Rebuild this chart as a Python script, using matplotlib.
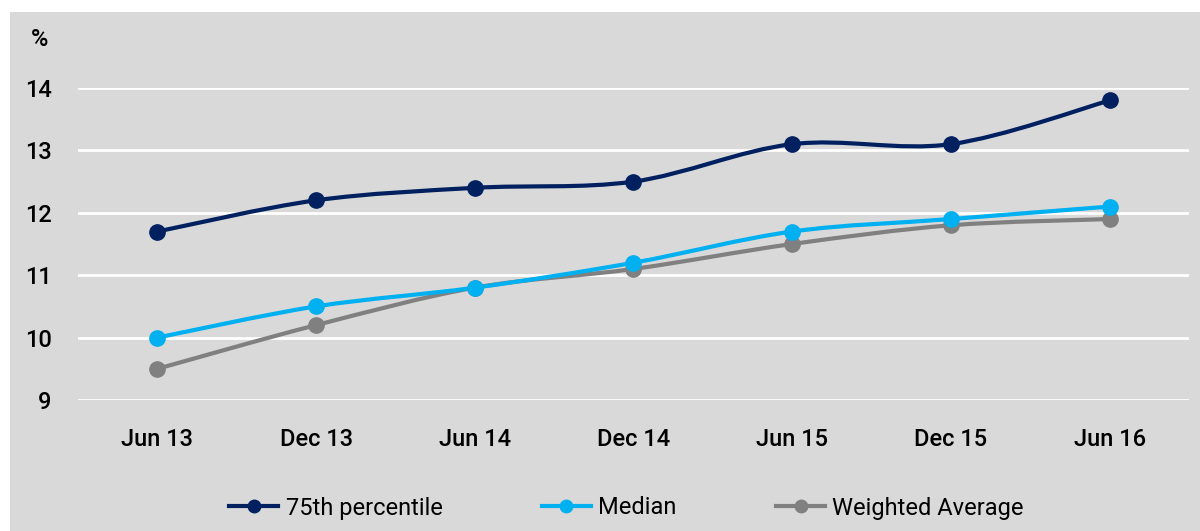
import numpy as np
import matplotlib
matplotlib.use('Agg')
import matplotlib.pyplot as plt
from matplotlib.path import Path
from matplotlib.patches import PathPatch, Rectangle
from matplotlib.lines import Line2D

plt.rcParams['font.family'] = ['Roboto', 'DejaVu Sans']

periods = ['Jun 13', 'Dec 13', 'Jun 14', 'Dec 14', 'Jun 15', 'Dec 15', 'Jun 16']
p75 = [11.7, 12.2, 12.4, 12.5, 13.1, 13.1, 13.8]
median = [10.0, 10.5, 10.8, 11.2, 11.7, 11.9, 12.1]
wavg = [9.5, 10.2, 10.8, 11.1, 11.5, 11.8, 11.9]

names = ['75th percentile', 'Median', 'Weighted Average']
colors = ['#002060', '#00B0F0', '#808080']

bg = '#D9D9D9'


def smooth_path(x, y):
    # excel style smoothed line, as cubic bezier segments
    pts = np.column_stack([x, y]).astype(float)
    n = len(pts)
    verts = [pts[0]]
    codes = [Path.MOVETO]
    for i in range(n - 1):
        p0 = pts[max(i - 1, 0)]
        p1 = pts[i]
        p2 = pts[i + 1]
        p3 = pts[min(i + 2, n - 1)]
        c1 = p1 + (p2 - p0) / 6.0
        c2 = p2 - (p3 - p1) / 6.0
        verts += [c1, c2, p2]
        codes += [Path.CURVE4] * 3
    return Path(verts, codes)


fig = plt.figure(figsize=(12, 5.31), dpi=100)
fig.patches.append(Rectangle((10 / 1200, 0), 1, 1 - 12 / 531, transform=fig.transFigure,
                             facecolor=bg, edgecolor='none', zorder=-10))

ax = fig.add_axes([78 / 1200, 1 - 400 / 531, (1189 - 78) / 1200, (400 - 88) / 531])
ax.set_facecolor('none')

x = np.arange(len(periods))
for vals, c in zip([p75, median, wavg][::-1], colors[::-1]):
    ax.add_patch(PathPatch(smooth_path(x, vals), facecolor='none', edgecolor=c,
                           lw=3, capstyle='round', clip_on=False, zorder=3))
    ax.plot(x, vals, 'o', color=c, markersize=11, clip_on=False, zorder=4)

ax.set_xlim(-0.5, len(periods) - 0.5)
ax.set_ylim(9, 14)
ax.set_yticks([9, 10, 11, 12, 13, 14])
ax.set_xticks(x)
ax.set_xticklabels(periods)
ax.grid(axis='y', color='white', lw=2)
ax.set_axisbelow(True)
for s in ax.spines.values():
    s.set_visible(False)
ax.tick_params(axis='both', length=0, labelsize=17, colors='black')
for lab in ax.get_xticklabels() + ax.get_yticklabels():
    lab.set_fontweight('medium')
ax.tick_params(axis='y', pad=19)
ax.tick_params(axis='x', pad=20)

fig.text(40 / 1200, 1 - 40 / 531, '%', fontsize=17, fontweight='medium', ha='center', va='center')

handles = [Line2D([], [], color=c, lw=3, marker='o', markersize=9) for c in colors]
fig.legend(handles, names, loc='center', bbox_to_anchor=(0.522, 1 - 508 / 531),
           ncol=3, frameon=False, fontsize=17, handlelength=2.1, handletextpad=0.3,
           columnspacing=4.2)

fig.savefig('out.png', dpi=100)
